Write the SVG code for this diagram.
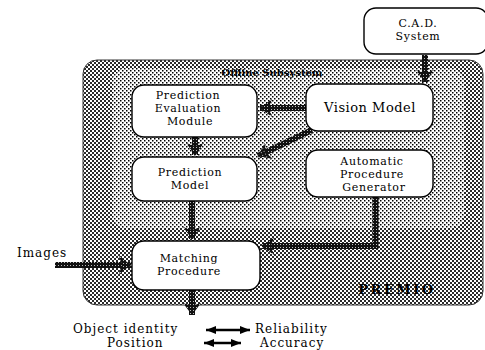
<svg xmlns="http://www.w3.org/2000/svg" width="485" height="350" viewBox="0 0 485 350">
<defs>
<pattern id="outerPat" width="4" height="4" patternUnits="userSpaceOnUse">
<rect width="4" height="4" fill="#fff"/>
<rect x="0" y="0" width="2" height="2" fill="#2a2a2a"/>
<rect x="2" y="2" width="2" height="2" fill="#2a2a2a"/>
</pattern>
<pattern id="innerPat" width="4" height="4" patternUnits="userSpaceOnUse">
<rect width="4" height="4" fill="#fff"/>
<rect x="0" y="0" width="1.5" height="1.5" fill="#000"/>
<rect x="2" y="2" width="1.5" height="1.5" fill="#000"/>
</pattern>
<pattern id="arrowPat" width="3" height="3" patternUnits="userSpaceOnUse">
<rect width="3" height="3" fill="#111"/>
<rect x="1" y="1" width="1" height="1" fill="#bbb"/>
</pattern>
<marker id="head" viewBox="0 0 12 18" refX="12" refY="9" markerWidth="12" markerHeight="18" markerUnits="userSpaceOnUse" orient="auto">
<polygon points="0,0 12,9 0,18 3,9" fill="url(#arrowPat)"/>
</marker>
<marker id="bh" viewBox="0 0 10 8" refX="10" refY="4" markerWidth="10" markerHeight="8" markerUnits="userSpaceOnUse" orient="auto-start-reverse">
<polygon points="0,0 10,4 0,8" fill="#000"/>
</marker>
</defs>
<style>
.node rect{fill:#fff;stroke:#000;stroke-width:1.4}
.node text{font-family:"DejaVu Serif","Liberation Serif",serif;font-size:11px;letter-spacing:0.7px;fill:#000;text-anchor:middle}
.conn path{fill:none;stroke:url(#arrowPat);stroke-width:6;marker-end:url(#head)}
.lbl{font-family:"DejaVu Serif","Liberation Serif",serif;font-size:12px;letter-spacing:1px;fill:#000}
</style>

<g id="premio">
<rect x="83" y="60" width="400" height="245" rx="14" fill="url(#outerPat)" stroke="#333" stroke-width="1"/>
<text x="397" y="294" text-anchor="middle" font-family="DejaVu Serif, serif" font-size="13" font-weight="bold" letter-spacing="2.5">PREMIO</text>
</g>
<g id="offline">
<rect x="112" y="68" width="352" height="160" rx="14" fill="url(#innerPat)"/>
<text x="272" y="76" text-anchor="middle" font-family="DejaVu Serif, serif" font-size="10" font-weight="bold">Offline Subsystem</text>
</g>

<g class="conn" id="connectors">
<path d="M425 55 V82"/>
<path d="M306 108 H260"/>
<path d="M312 130 L258 156"/>
<path d="M195 137 V155"/>
<path d="M192 201 V239"/>
<path d="M375.5 197 V246 H262"/>
<path d="M55 265 H131"/>
<path d="M192 290 V315"/>
</g>

<g id="cad" class="node">
<rect x="364" y="8" width="124" height="46" rx="12"/>
<text x="418" y="27">C.A.D.</text>
<text x="418" y="40">System</text>
</g>
<g id="pem" class="node">
<rect x="132" y="85" width="125" height="52" rx="12"/>
<text x="188" y="99">Prediction</text>
<text x="188" y="112">Evaluation</text>
<text x="190" y="125">Module</text>
</g>
<g id="vision" class="node">
<rect x="306" y="84" width="127" height="47" rx="12"/>
<text x="370" y="112" style="font-size:13px;letter-spacing:0.5px">Vision Model</text>
</g>
<g id="predmodel" class="node">
<rect x="132" y="157" width="125" height="44" rx="12"/>
<text x="190" y="176">Prediction</text>
<text x="190" y="189">Model</text>
</g>
<g id="apg" class="node">
<rect x="306" y="150" width="127" height="47" rx="12"/>
<text x="372" y="165">Automatic</text>
<text x="372" y="178">Procedure</text>
<text x="374" y="191">Generator</text>
</g>
<g id="matching" class="node">
<rect x="132" y="241" width="128" height="49" rx="12"/>
<text x="189" y="262">Matching</text>
<text x="189" y="275">Procedure</text>
</g>

<g id="images">
<text class="lbl" x="17" y="257" font-family="DejaVu Serif, serif">Images</text>
</g>
<g id="outputs">
<text class="lbl" x="73" y="333" font-family="DejaVu Serif, serif">Object identity</text>
<text class="lbl" x="255" y="333" font-family="DejaVu Serif, serif">Reliability</text>
<text class="lbl" x="107" y="347" font-family="DejaVu Serif, serif">Position</text>
<text class="lbl" x="260" y="347" font-family="DejaVu Serif, serif">Accuracy</text>
<line x1="206" y1="330" x2="250" y2="330" stroke="#000" stroke-width="2.5" marker-start="url(#bh)" marker-end="url(#bh)"/>
<line x1="204" y1="343" x2="241" y2="343" stroke="#000" stroke-width="2.5" marker-start="url(#bh)" marker-end="url(#bh)"/>
</g>
</svg>
